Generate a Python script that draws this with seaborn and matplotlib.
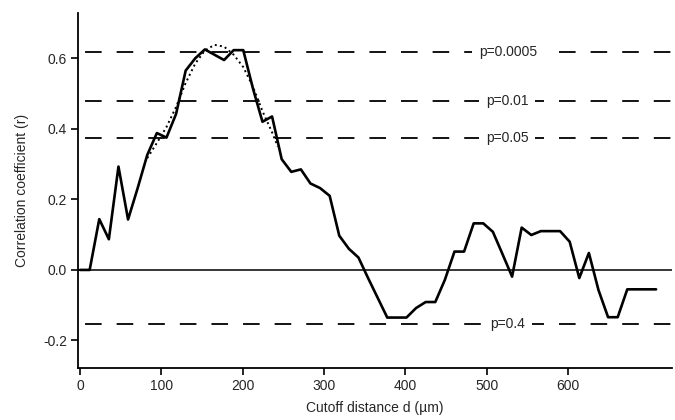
import numpy as np
import matplotlib
matplotlib.use("Agg")
import matplotlib.pyplot as plt
import seaborn as sns
import pandas as pd

# cutoff distance grid, as placed against the axis ticks of the original
distance = np.arange(61) * 11.8
corr = [0.0, 0.0, 0.144, 0.087, 0.293, 0.143, 0.232, 0.326, 0.388, 0.375,
        0.442, 0.565, 0.600, 0.625, 0.610, 0.595, 0.623, 0.623, 0.515, 0.420,
        0.435, 0.314, 0.278, 0.285, 0.245, 0.232, 0.210, 0.097, 0.060, 0.035,
        -0.023, -0.079, -0.135, -0.135, -0.135, -0.108, -0.091, -0.091, -0.028, 0.052,
        0.052, 0.132, 0.132, 0.108, 0.045, -0.019, 0.120, 0.099, 0.110, 0.110,
        0.110, 0.080, -0.023, 0.048, -0.057, -0.134, -0.134, -0.055, -0.055, -0.055,
        -0.055]

# smooth fit around the peak (dotted)
fit_d = [82.6, 94.4, 106.2, 118.0, 129.8, 141.6, 153.4, 165.2, 177.0, 188.8,
         200.6, 212.4, 224.2, 236.0, 243.0]
fit_r = [0.317, 0.360, 0.405, 0.462, 0.530, 0.585, 0.622, 0.638, 0.633, 0.610,
         0.575, 0.520, 0.450, 0.390, 0.350]

# significance levels
p_labels = ["p=0.0005", "p=0.01", "p=0.05", "p=0.4"]
p_values = [0.618, 0.479, 0.375, -0.153]
p_text_x = [526, 525, 525, 526]

xticks = [0, 100, 200, 300, 400, 500, 600]
yticks = [-0.2, 0.0, 0.2, 0.4, 0.6]

sns.set_style("ticks")
plt.rcParams['font.family'] = ['Liberation Sans', 'DejaVu Sans']

fig = plt.figure(figsize=(6.75, 4.2), dpi=100)
ax = fig.add_axes([0.1156, 0.1238, 0.88, 0.845])

for yv in p_values:
    ax.axhline(yv, color='black', lw=1.3, linestyle=(13.6, (9.2, 8.3)), zorder=1)
for lab, yv, xv in zip(p_labels, p_values, p_text_x):
    ax.text(xv, yv, lab, ha='center', va='center', fontsize=10, zorder=2,
            bbox=dict(fc='white', ec='none', pad=5))

ax.axhline(0, color='black', lw=1.1, zorder=2)

df = pd.DataFrame({'d': distance, 'r': corr})
sns.lineplot(data=df, x='d', y='r', color='black', lw=1.9, ax=ax, zorder=4)
fit = pd.DataFrame({'d': fit_d, 'r': fit_r})
sns.lineplot(data=fit, x='d', y='r', color='black', lw=1.4, linestyle=':', ax=ax, zorder=3)

ax.set_xlim(-2.5, 727.6)
ax.set_ylim(-0.278, 0.728)
ax.set_xticks(xticks)
ax.set_xticklabels([str(t) for t in xticks])
ax.set_yticks(yticks)
ax.set_yticklabels(["-0.2", "0.0", "0.2", "0.4", "0.6"])
ax.tick_params(axis='both', labelsize=10, length=5, width=1.2, color='black', pad=3)
for s in ['top', 'right']:
    ax.spines[s].set_visible(False)
for s in ['left', 'bottom']:
    ax.spines[s].set_linewidth(1.3)
    ax.spines[s].set_color('black')

ax.set_xlabel("Cutoff distance d (µm)", fontsize=10, labelpad=6)
ax.set_ylabel("Correlation coefficient (r)", fontsize=10, labelpad=10)

fig.savefig("out.png", dpi=100)
